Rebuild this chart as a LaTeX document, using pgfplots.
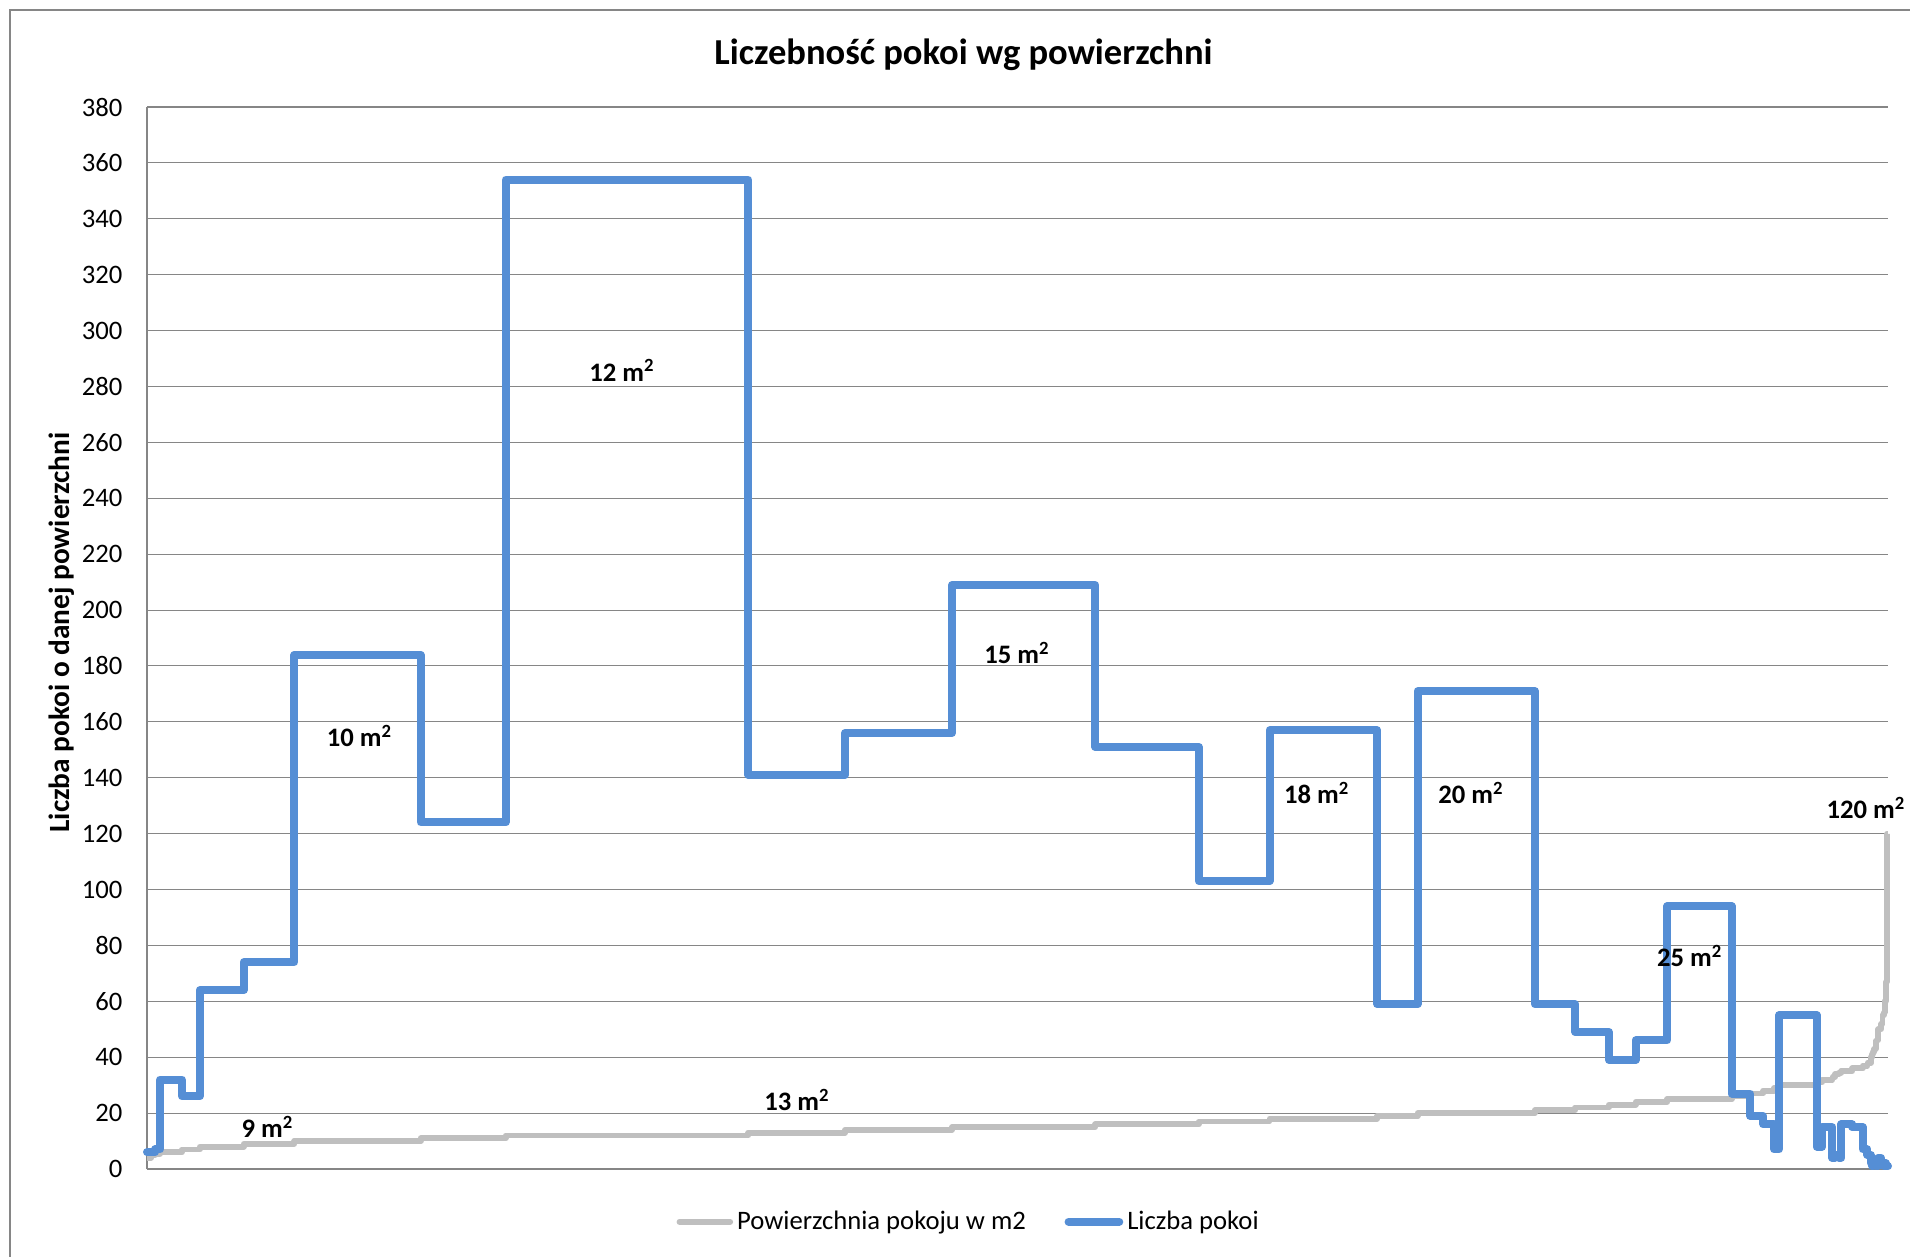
\documentclass[border=0pt]{standalone}
\usepackage{fontspec}
\setmainfont{Carlito}
\usepackage{pgfplots}
\usepackage{pgfplotstable}
\pgfplotsset{compat=1.18}

\definecolor{roomblue}{RGB}{85,142,213}
\definecolor{areagray}{RGB}{191,191,191}
\definecolor{gridgray}{RGB}{134,134,134}

% rooms sorted by area: first room index of each group, area (m2), rooms in group
\pgfplotstableread{
start area count
0 4 6
6 5 6
12 5.5 7
19 6 32
51 7 26
77 8 64
141 9 74
215 10 184
399 11 124
523 12 354
877 13 141
1018 14 156
1174 15 209
1383 16 151
1534 17 103
1637 18 157
1794 19 59
1853 20 171
2024 21 59
2083 22 49
2132 23 39
2171 24 46
2217 25 94
2311 26 27
2338 27 19
2357 28 16
2373 29 7
2380 30 55
2435 31 8
2443 32 15
2458 33 4
2462 34 5
2467 34.5 4
2471 35 16
2487 36 15
2502 37 7
2509 38 5
2514 40 2
2516 41 1
2517 42 2
2519 43 2
2521 45 1
2522 46 2
2524 48 1
2525 50 4
2529 52 2
2531 55 2
2533 56 1
2534 60 2
2536 67 1
2537 73 1
2538 120 1
2539 120 1
}\rooms

\begin{document}
\begin{tikzpicture}[x=1pt,y=1pt]
\useasboundingbox (-55.125,-32.625) rectangle (661.125,438.375);
\draw[gridgray, line width=0.8pt] (-51.4,-40) -- (-51.4,434.6) -- (670,434.6);
\begin{axis}[
    at={(0,0)}, anchor=south west,
    scale only axis,
    width=652.875pt, height=398.25pt,
    xmin=0, xmax=2539,
    ymin=0, ymax=380,
    ytick={0,20,...,380},
    xtick=\empty,
    ymajorgrids,
    grid style={gridgray, line width=0.4pt},
    axis x line*=bottom,
    axis y line*=left,
    axis line style={gridgray, line width=0.4pt, -},
    major tick length=0pt,
    /pgf/number format/assume math mode=true,
    yticklabel style={font=\fontsize{10}{12}\selectfont, inner sep=0pt, xshift=-9pt},
    ylabel={Liczba pokoi o danej powierzchni},
    ylabel style={at={(axis description cs:-0.049,0.505)}, anchor=center,
        font=\bfseries\fontsize{11}{13}\selectfont},
    title={Liczebność pokoi wg powierzchni},
    title style={at={(axis description cs:0.469,1.0342)}, anchor=center,
        font=\bfseries\fontsize{13.7}{16}\selectfont},
    legend style={at={(axis description cs:0.4725,-0.0497)}, anchor=center,
        draw=none, inner sep=0pt, legend columns=2,
        font=\fontsize{10}{12}\selectfont,
        nodes={inner sep=1.5pt},
        /tikz/every even column/.append style={column sep=13pt}},
    legend cell align=left,
    legend image code/.code={\draw[#1, line cap=round] (0pt,0pt) -- (19pt,0pt);},
    clip=false,
]
\addplot[areagray, line width=2.2pt, const plot, line join=round] table[x=start, y=area] {\rooms};
\addplot[roomblue, line width=3pt, const plot, line join=round, line cap=round] table[x=start, y=count] {\rooms};
\legend{Powierzchnia pokoju w m2, Liczba pokoi}

\begin{scope}[every node/.style={font=\bfseries\fontsize{10}{12}\selectfont}]
\node at (axis cs:176,15.1) {9 m\textsuperscript{2}};
\node at (axis cs:310,155) {10 m\textsuperscript{2}};
\node at (axis cs:693,285.8) {12 m\textsuperscript{2}};
\node at (axis cs:948,24.7) {13 m\textsuperscript{2}};
\node at (axis cs:1269,184.6) {15 m\textsuperscript{2}};
\node at (axis cs:1706,134.5) {18 m\textsuperscript{2}};
\node at (axis cs:1931,134.5) {20 m\textsuperscript{2}};
\node at (axis cs:2250,76.2) {25 m\textsuperscript{2}};
\node at (axis cs:2507,129.2) {120 m\textsuperscript{2}};
\end{scope}
\end{axis}
\end{tikzpicture}
\end{document}
